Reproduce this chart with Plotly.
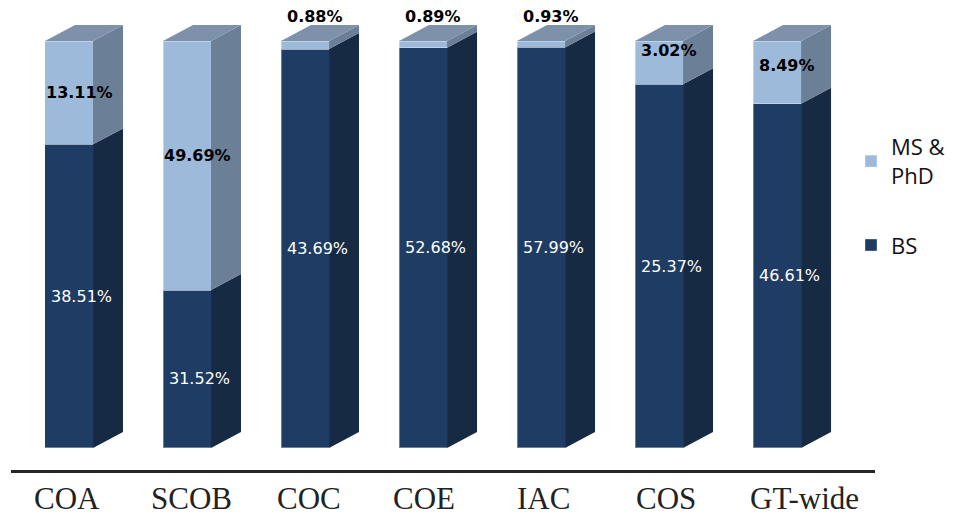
import numpy as np
import plotly.graph_objects as go

# ---- data ----
categories = ["COA", "SCOB", "COC", "COE", "IAC", "COS", "GT-wide"]
bs_values = [38.51, 31.52, 43.69, 52.68, 57.99, 25.37, 46.61]
ms_phd_values = [13.11, 49.69, 0.88, 0.89, 0.93, 3.02, 8.49]
series_names = ["MS &<br>PhD", "BS"]

# ---- style ----
BS_FRONT = "#1F3D64"
BS_SIDE = "#172A44"
MS_FRONT = "#9EBADA"
MS_SIDE = "#6B7F97"
MS_TOP = "#7E91AA"
BAR_W = 0.407      # bar width in category units
DX = 0.254         # depth offset (x units)
DY = 3.93          # depth offset (y units, percent)
LABEL_XSHIFT = 12  # px
small_label_limit = 2.0
ms_label_nudge = [0, 10, 0, 0, 0, 12, 7]   # px upward (style tweak)
bs_label_nudge = [0, -9, 0, 0, 0, 0, 0]
cat_label_xshift = [-2, 4, 4, 1, 2, 7, 27]  # px (style tweak)

x = np.arange(len(categories))
bs = np.array(bs_values)
ms = np.array(ms_phd_values)
tot = bs + ms
bs_share = bs / tot * 100
top_share = np.full(len(categories), 100.0)

fig = go.Figure()

# front faces: 100% stacked bars
fig.add_trace(go.Bar(x=x, y=bs, name=series_names[1], marker_color=BS_FRONT,
                     marker_line=dict(color="rgba(255,255,255,0.35)", width=1),
                     width=BAR_W, legendgroup="bs", legendrank=2, hoverinfo="skip"))
fig.add_trace(go.Bar(x=x, y=ms, name=series_names[0], marker_color=MS_FRONT,
                     marker_line=dict(color="rgba(255,255,255,0.35)", width=1),
                     width=BAR_W, legendgroup="ms", legendrank=1, hoverinfo="skip"))


def side_polys(y0s, y1s):
    xs, ys = [], []
    for xi, a, b in zip(x, y0s, y1s):
        xr = xi + BAR_W / 2
        xs += [xr, xr + DX, xr + DX, xr, xr, None]
        ys += [a, a + DY, b + DY, b, a, None]
    return xs, ys


def top_polys(yt):
    xs, ys = [], []
    for xi, t in zip(x, yt):
        xl = xi - BAR_W / 2
        xr = xi + BAR_W / 2
        xs += [xl, xl + DX, xr + DX, xr, xl, None]
        ys += [t, t + DY, t + DY, t, t, None]
    return xs, ys


for (xs, ys), col in [(side_polys(np.zeros(len(x)), bs_share), BS_SIDE),
                      (side_polys(bs_share, top_share), MS_SIDE),
                      (top_polys(top_share), MS_TOP)]:
    fig.add_trace(go.Scatter(x=xs, y=ys, mode="lines", fill="toself",
                             fillcolor=col, line=dict(width=0, color=col),
                             showlegend=False, hoverinfo="skip"))

# labels
ann = []
for i in range(len(categories)):
    ann.append(dict(x=x[i], y=bs_share[i] / 2, xref="x", yref="y",
                    text=f"{bs_values[i]:.2f}%", showarrow=False,
                    xshift=LABEL_XSHIFT, yshift=bs_label_nudge[i],
                    font=dict(family="DejaVu Sans", size=16, color="white")))
    if ms_phd_values[i] < small_label_limit:
        ann.append(dict(x=x[i], y=100 + DY, xref="x", yref="y",
                        text=f"<b>{ms_phd_values[i]:.2f}%</b>", showarrow=False,
                        xshift=LABEL_XSHIFT - 2, yanchor="bottom", yshift=-3,
                        font=dict(family="DejaVu Sans", size=16, color="black")))
    else:
        ann.append(dict(x=x[i], y=(bs_share[i] + 100) / 2, xref="x", yref="y",
                        text=f"<b>{ms_phd_values[i]:.2f}%</b>", showarrow=False,
                        xshift=LABEL_XSHIFT - 2, yshift=ms_label_nudge[i],
                        font=dict(family="DejaVu Sans", size=16, color="black")))
    # category label
    ann.append(dict(x=x[i], y=0, xref="x", yref="paper", text=categories[i],
                    showarrow=False, yanchor="middle", yshift=-28,
                    xshift=cat_label_xshift[i],
                    font=dict(family="Liberation Serif", size=31, color="#222")))

fig.update_layout(
    width=959, height=513,
    barmode="stack", barnorm="percent",
    plot_bgcolor="white", paper_bgcolor="white",
    margin=dict(l=11, r=84, t=5, b=43, autoexpand=False),
    showlegend=True,
    legend=dict(traceorder="grouped", xref="container", yref="container",
                x=851 / 959, xanchor="left", y=1 - 126 / 513, yanchor="top",
                font=dict(family="Open Sans", size=22, color="#111"),
                tracegroupgap=38, bgcolor="rgba(0,0,0,0)"),
    annotations=ann,
)
fig.update_xaxes(range=[-0.4915, 6.83], tickvals=list(x), showticklabels=False,
                 showgrid=False, zeroline=False, showline=True, automargin=False,
                 linecolor="#262626", linewidth=3, ticks="")
fig.update_yaxes(range=[-5.41, 108.85], visible=False, showgrid=False,
                 zeroline=False, automargin=False)

fig.write_html("out.html", config={"displayModeBar": False},
               post_script="document.body.style.margin='0';")
